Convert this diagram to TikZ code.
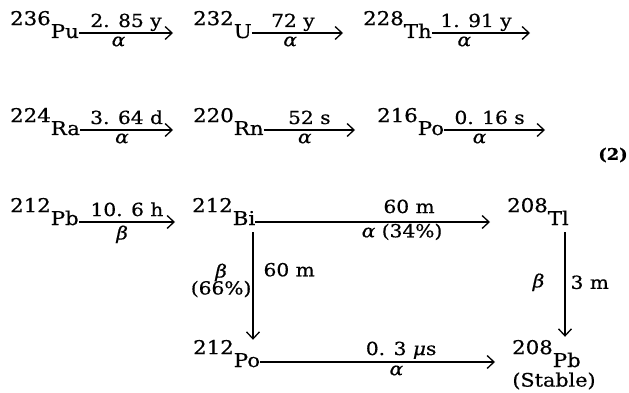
\documentclass[tikz,border=0pt]{standalone}
\usepackage{fontspec}
\setmainfont{DejaVu Serif}[FakeStretch=1.12, FakeBold=0.6]
\usetikzlibrary{arrows.meta}
\newcommand\nucl[2]{\raisebox{0.68em}{#1}#2}
\newcommand\gr[1]{\textit{#1}}
\begin{document}
\begin{tikzpicture}[x=1pt,y=-1pt,
  nuc/.style={anchor=base west, inner sep=0pt, font=\fontsize{19}{22}\selectfont},
  lbl/.style={inner sep=0pt, font=\fontsize{18}{20}\selectfont},
  decay/.style={line width=1.2pt, -{Straight Barb[length=7pt,width=13pt,line width=1.3pt]}},
  toplbl/.style={lbl, anchor=base, yshift=6pt},
  botlbl/.style={lbl, anchor=north, yshift=-3pt},
]
\useasboundingbox (0,0) rectangle (629,393);
% nuclides
\node[nuc] (pu236) at (10,38) {\nucl{236}{Pu}};
\node[nuc] (u232) at (193,38) {\nucl{232}{U}};
\node[nuc] (th228) at (363,38) {\nucl{228}{Th}};
\node[nuc] (ra224) at (10,135) {\nucl{224}{Ra}};
\node[nuc] (rn220) at (193,135) {\nucl{220}{Rn}};
\node[nuc] (po216) at (377,135) {\nucl{216}{Po}};
\node[nuc] (pb212) at (10,225) {\nucl{212}{Pb}};
\node[nuc] (bi212) at (192,225) {\nucl{212}{Bi}};
\node[nuc] (tl208) at (507,225) {\nucl{208}{Tl}};
\node[nuc] (po212) at (193,367) {\nucl{212}{Po}};
\node[nuc] (pb208) at (512,367) {\nucl{208}{Pb}};
\node[lbl, font=\fontsize{18.5}{20}\selectfont] (stable) at (554,381) {(Stable)};
\node[inner sep=0pt, font=\fontsize{16}{18}\selectfont\bfseries] (eqno) at (613,155) {(2)};
\coordinate (thend) at (530,33);
\coordinate (poend) at (545,130);
\coordinate (bidown) at ([xshift=61pt,yshift=-7pt]bi212.base west);
\coordinate (tldown) at ([xshift=58pt,yshift=-7pt]tl208.base west);
% row 1
\draw[decay] ([yshift=5pt]pu236.base east) -- ([xshift=-20pt,yshift=5pt]u232.base west)
  node[toplbl, pos=0.5] {2. 85 y} node[botlbl, pos=0.42] {\gr{α}};
\draw[decay] ([yshift=5pt]u232.base east) -- ([xshift=-20pt,yshift=5pt]th228.base west)
  node[toplbl, pos=0.45] {72 y} node[botlbl, pos=0.42] {\gr{α}};
\draw[decay] ([yshift=5pt]th228.base east) -- (thend)
  node[toplbl, pos=0.45] {1. 91 y} node[botlbl, pos=0.33] {\gr{α}};
% row 2
\draw[decay] ([yshift=5pt]ra224.base east) -- ([xshift=-20pt,yshift=5pt]rn220.base west)
  node[toplbl, pos=0.5] {3. 64 d} node[botlbl, pos=0.45] {\gr{α}};
\draw[decay] ([yshift=5pt]rn220.base east) -- ([xshift=-22pt,yshift=5pt]po216.base west)
  node[toplbl, pos=0.5] {52 s} node[botlbl, pos=0.45] {\gr{α}};
\draw[decay] ([yshift=5pt]po216.base east) -- (poend)
  node[toplbl, pos=0.45] {0. 16 s} node[botlbl, pos=0.35] {\gr{α}};
% row 3
\draw[decay] ([yshift=3pt]pb212.base east) -- ([xshift=-17pt,yshift=3pt]bi212.base west)
  node[toplbl, pos=0.5] {10. 6 h} node[botlbl, pos=0.45] {\gr{β}};
\draw[decay] ([yshift=3pt]bi212.base east) -- ([xshift=-17pt,yshift=3pt]tl208.base west)
  node[lbl, anchor=base, yshift=9pt, pos=0.655] {60 m}
  node[lbl, anchor=north, yshift=-1pt, pos=0.625] {\gr{α} (34\%)};
% row 4
\draw[decay] ([yshift=5pt]po212.base east) -- ([xshift=-17pt,yshift=5pt]pb208.base west)
  node[lbl, anchor=base, yshift=7pt, pos=0.6] {0. 3 \gr{μ}s}
  node[lbl, anchor=north, yshift=-3pt, pos=0.58] {\gr{α}};
% vertical
\draw[decay] (bidown) -- (bidown |- po212.north)
  node[lbl, anchor=west, xshift=10pt, pos=0.35] {60 m}
  node[lbl, anchor=east, xshift=-1pt, pos=0.45, align=center] {\gr{β}\\[-3pt](66\%)};
\draw[decay] (tldown) -- ([yshift=3pt]tldown |- pb208.north)
  node[lbl, anchor=west, xshift=5pt, pos=0.48] {3 m}
  node[lbl, anchor=east, xshift=-20pt, pos=0.48] {\gr{β}};
\end{tikzpicture}
\end{document}
